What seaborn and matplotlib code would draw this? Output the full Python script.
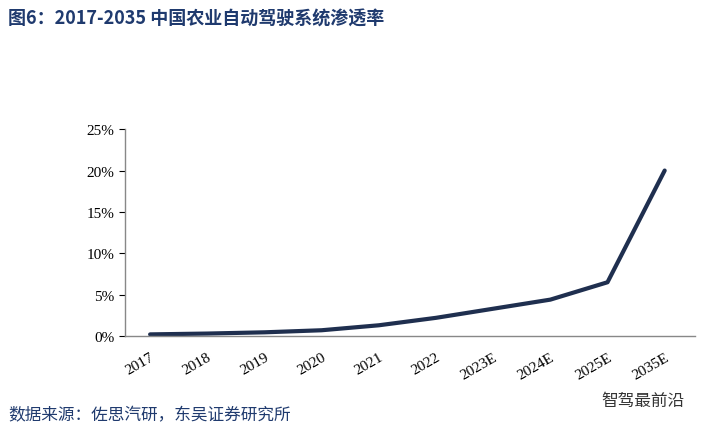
import matplotlib
matplotlib.use("Agg")
import matplotlib.pyplot as plt
import seaborn as sns
import pandas as pd
from matplotlib.ticker import FuncFormatter

years = ["2017", "2018", "2019", "2020", "2021", "2022", "2023E", "2024E", "2025E", "2035E"]
rates = [0.2, 0.3, 0.45, 0.7, 1.3, 2.2, 3.3, 4.4, 6.5, 20.0]
yticks = [0, 5, 10, 15, 20, 25]

sns.set_style("white")
plt.rcParams['font.family'] = ['Liberation Serif', 'Noto Sans CJK SC', 'DejaVu Sans']

df = pd.DataFrame({"year": years, "rate": rates})
df["pos"] = range(len(years))

fig = plt.figure(figsize=(7.02, 4.31), dpi=100)
ax = fig.add_axes([0.178, 0.218, 0.812, 0.48])
sns.lineplot(data=df, x="pos", y="rate", ax=ax, color="#1f2f4f", linewidth=3)
ax.set_xlim(-0.44, len(years) - 1 + 0.53)
ax.set_ylim(0, 25)
ax.set_yticks(yticks)
ax.yaxis.set_major_formatter(FuncFormatter(lambda v, p: f"{int(v)}%"))
ax.set_xticks(df["pos"])
ax.set_xticklabels(years, rotation=30, ha="right", rotation_mode="anchor")
ax.tick_params(axis="both", labelsize=11, colors="black", length=4, direction="out")
ax.tick_params(axis="x", length=0, pad=10)
ax.set_xlabel("")
ax.set_ylabel("")
for s in ["top", "right"]:
    ax.spines[s].set_visible(False)
for s in ["left", "bottom"]:
    ax.spines[s].set_color("#888888")
    ax.spines[s].set_linewidth(1)
ax.yaxis.set_ticks_position("left")

fig.text(0.012, 0.955, "图6：2017-2035 中国农业自动驾驶系统渗透率", fontsize=13, fontweight="bold",
         color="#1f3a6e", family=['Noto Sans CJK SC', 'DejaVu Sans'], va="center")
fig.text(0.012, 0.035, "数据来源：佐思汽研，东吴证券研究所", fontsize=12,
         color="#1f3a6e", family=['Noto Sans CJK SC', 'DejaVu Sans'], va="center")
fig.text(0.975, 0.068, "智驾最前沿", fontsize=12, color="#333333", ha="right",
         family=['Noto Sans CJK SC', 'DejaVu Sans'], va="center")

fig.savefig("out.png", dpi=100)
